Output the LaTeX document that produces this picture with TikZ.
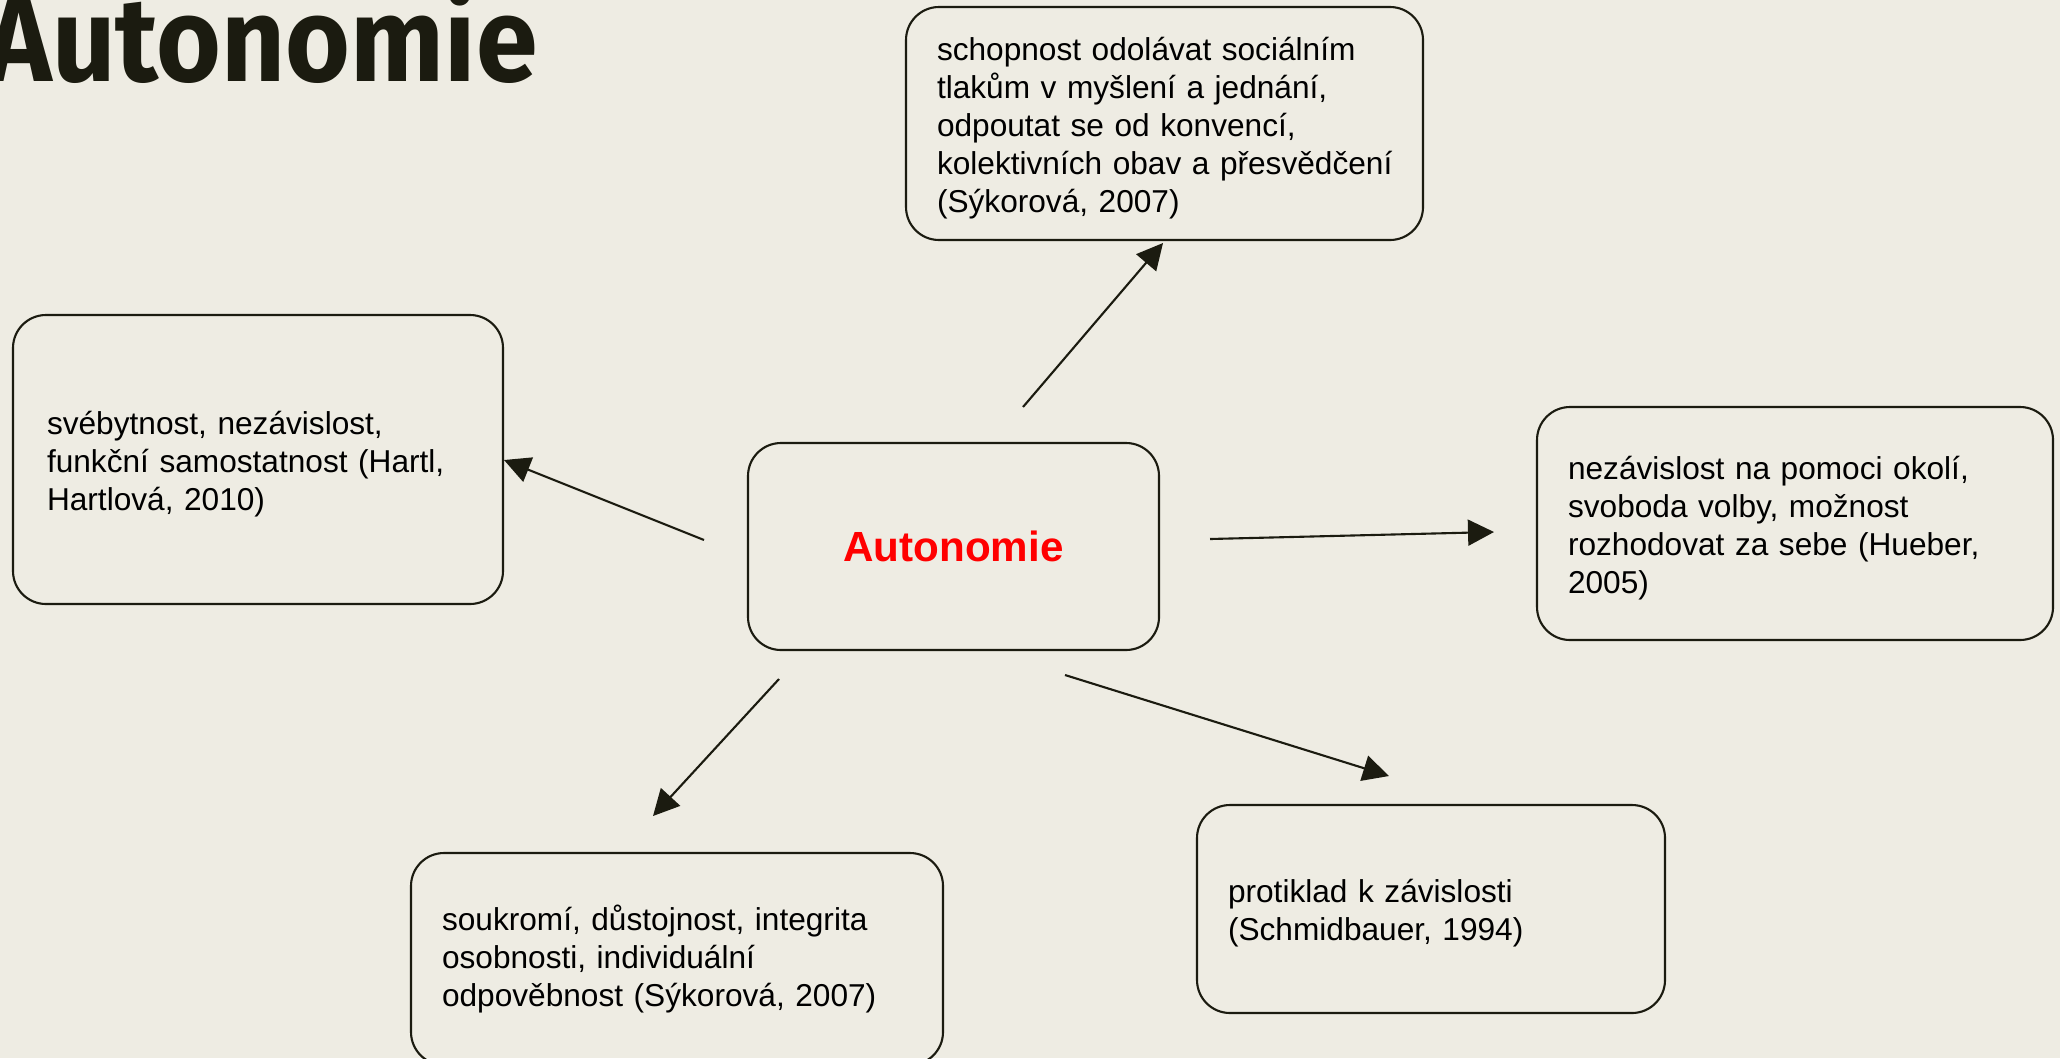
\documentclass[tikz,border=0pt]{standalone}
\usepackage{fontspec}
\setmainfont{Liberation Sans}
\newfontfamily\titlefont[FakeStretch=0.93]{Fira Sans}
\usetikzlibrary{arrows.meta}
\definecolor{paper}{HTML}{EEECE3}
\definecolor{ink}{HTML}{1B1B10}
\newcommand{\firstline}{\rule{0pt}{9.2pt}}
\tikzset{
  idea/.style={draw=ink, line width=0.6pt, rounded corners=3.3mm, align=left,
    inner xsep=3.1mm, inner ysep=0pt, font=\fontsize{9pt}{10.8pt}\selectfont},
  link/.style={draw=ink, line width=0.6pt, -{Triangle[length=2.6mm,width=2.6mm]}}
}
\begin{document}
\begin{tikzpicture}[x=0.1mm,y=-0.1mm]
\fill[paper] (0,0) rectangle (2060,1058);
\useasboundingbox (0,0) rectangle (2060,1058);

\node[anchor=base west, text=ink, inner sep=0pt] (title) at (-14,81) {\titlefont\bfseries\fontsize{34pt}{40pt}\selectfont Autonomie};

\node[idea, minimum height=20.7mm, minimum width=41.1mm, align=center,
  font=\fontsize{12pt}{14pt}\selectfont\bfseries, text=red] (main) at (953.5,546.5) {Autonomie};

\node[idea, text width=45.5mm, minimum height=23.3mm] (social) at (1164.5,123.5)
  {\firstline schopnost odolávat sociálním\\tlakům v myšlení a jednání,\\odpoutat se od konvencí,\\\mbox{kolektivních obav a přesvědčení}\\(Sýkorová, 2007)};
\node[idea, text width=42.2mm, minimum height=28.9mm, inner xsep=3.4mm] (selfhood) at (258,459.5)
  {\firstline svébytnost, nezávislost,\\funkční samostatnost (Hartl,\\Hartlová, 2010)};
\node[idea, text width=45.4mm, minimum height=23.3mm] (choice) at (1795,523.5)
  {\firstline nezávislost na pomoci okolí,\\svoboda volby, možnost\\rozhodovat za sebe (Hueber,\\2005)};
\node[idea, text width=40.6mm, minimum height=20.8mm] (opposite) at (1431,909)
  {\firstline protiklad k závislosti\\(Schmidbauer, 1994)};
\node[idea, text width=47mm, minimum height=21.2mm] (privacy) at (677,959)
  {soukromí, důstojnost, integrita\\osobnosti, individuální\\odpověbnost (Sýkorová, 2007)};

% arrow ends, kept off the boxes
\coordinate (s1) at (1023,407); \coordinate (e1) at (1163,243);
\coordinate (s2) at (704,540);  \coordinate (e2) at (504,460);
\coordinate (s3) at (1210,539); \coordinate (e3) at (1494,532);
\coordinate (s4) at (779,679);  \coordinate (e4) at (653,816);
\coordinate (s5) at (1065,675); \coordinate (e5) at (1389,776);

\draw[link] (s1) -- (e1);
\draw[link] (s2) -- (e2);
\draw[link] (s3) -- (e3);
\draw[link] (s4) -- (e4);
\draw[link] (s5) -- (e5);

\end{tikzpicture}
\end{document}
